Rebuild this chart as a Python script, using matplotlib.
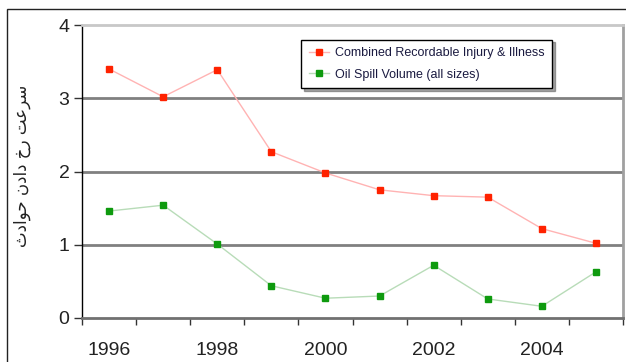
import matplotlib.pyplot as plt
import matplotlib.patches as patches
import numpy as np

years = [1996, 1997, 1998, 1999, 2000, 2001, 2002, 2003, 2004, 2005]
injury = [3.40, 3.02, 3.39, 2.27, 1.98, 1.75, 1.67, 1.65, 1.22, 1.02]
oil_spill = [1.46, 1.54, 1.01, 0.44, 0.27, 0.30, 0.72, 0.26, 0.16, 0.63]
tick_years = ["1996", "1998", "2000", "2002", "2004"]
series_names = ["Combined Recordable Injury & Illness", "Oil Spill Volume (all sizes)"]

# سرعت رخ دادن حوادث  (pre-shaped presentation forms, visual order)
ylabel_text = "\uFE99\uFEA9\uFE8D\uFEEE\uFEA3 \uFEE5\uFEA9\uFE8D\uFEA9 \uFEA5\uFEAD \uFE96\uFECB\uFEAE\uFEB3"

plt.rcParams['font.family'] = ['Liberation Sans', 'DejaVu Sans']

fig = plt.figure(figsize=(6.26, 3.62), dpi=100)
ax = fig.add_axes([82 / 626, 44 / 362, 541 / 626, 293 / 362])

x = np.arange(len(years))
ax.plot(x, injury, color="#ffb3b3", lw=1.0, marker="s", ms=5,
        mfc="#ff2200", mec="#ff2200", label=series_names[0], zorder=3)
ax.plot(x, oil_spill, color="#b8dcb8", lw=1.0, marker="s", ms=5,
        mfc="#0e9a0e", mec="#0e9a0e", label=series_names[1], zorder=3)

ax.set_xlim(-0.5, len(years) - 0.5)
ax.set_ylim(0, 4)
ax.set_yticks([0, 1, 2, 3, 4])
ax.set_yticklabels(["0", "1", "2", "3", "4"], fontsize=14, color="#222222")
for v in [1, 2, 3]:
    ax.axhline(v, color="#808080", lw=2.0, zorder=1)

# category boundaries as tick marks, year labels at every second category
ax.set_xticks(np.arange(-0.5, len(years), 1.0))
ax.set_xticklabels([])
ax.set_xticks(x[::2], minor=True)
ax.set_xticklabels(tick_years, minor=True, fontsize=14, color="#222222")
ax.tick_params(axis="x", which="major", direction="out", length=5, width=1, color="#333333")
ax.tick_params(axis="x", which="minor", length=0, pad=17)
ax.tick_params(axis="y", direction="out", length=6, width=1, color="#333333", pad=3)

ax.spines["left"].set_color("black")
ax.spines["left"].set_linewidth(1.0)
ax.spines["bottom"].set_color("#707070")
ax.spines["bottom"].set_linewidth(2.0)
ax.spines["right"].set_color("#a0a0a0")
ax.spines["right"].set_linewidth(2.0)
ax.spines["top"].set_color("#c8c8c8")
ax.spines["top"].set_linewidth(2.0)

ax.text(-0.111, 0.52, ylabel_text, transform=ax.transAxes, rotation=90,
        ha="center", va="center", fontsize=12, family=["DejaVu Sans"], color="#222222")

leg = ax.legend(loc="upper left", bbox_to_anchor=(0.405, 0.95), borderaxespad=0,
                fontsize=9, fancybox=False, edgecolor="black", shadow=True,
                handlelength=1.6, handletextpad=0.5, borderpad=0.6,
                labelspacing=0.75, framealpha=1)
leg.get_frame().set_linewidth(1.0)
for t in leg.get_texts():
    t.set_color("#1a1a40")

# outer chart border
fig.patches.append(patches.Rectangle((7 / 626, -0.1), 1.0, 1.1 - 9 / 362,
                                     transform=fig.transFigure, fill=False,
                                     edgecolor="#222222", lw=1.0))

fig.savefig("out.png", dpi=100)
